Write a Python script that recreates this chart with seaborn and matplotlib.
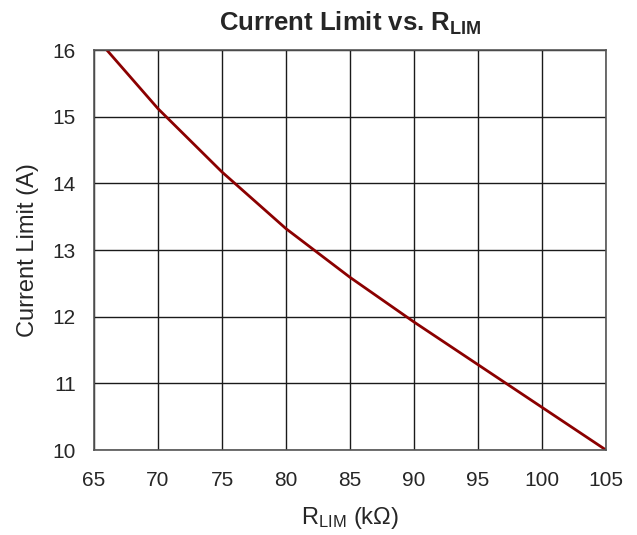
import matplotlib
matplotlib.use("Agg")
import pandas as pd
import matplotlib.pyplot as plt
import seaborn as sns

# Values
r_lim = [66, 70, 75, 80, 85, 90, 95, 100, 105]
current_limit = [16.0, 15.12, 14.17, 13.32, 12.59, 11.92, 11.28, 10.64, 10.0]
x_ticks = [65, 70, 75, 80, 85, 90, 95, 100, 105]
y_ticks = [10, 11, 12, 13, 14, 15, 16]

df = pd.DataFrame({"rlim": r_lim, "ilim": current_limit})

sns.set_style("white")
plt.rcParams["font.family"] = ["Liberation Sans", "DejaVu Sans"]
plt.rcParams["mathtext.default"] = "regular"

fig = plt.figure(figsize=(6.37, 5.35), dpi=100)
ax = fig.add_axes([94 / 637, 1 - 450 / 535, 512 / 637, 400 / 535])

sns.lineplot(data=df, x="rlim", y="ilim", color="#8b0000", linewidth=2, ax=ax)

ax.set_xlim(65, 105)
ax.set_ylim(10, 16)
ax.set_xticks(x_ticks)
ax.set_yticks(y_ticks)
ax.tick_params(axis="both", labelsize=15, length=0)
ax.tick_params(axis="y", pad=13)
ax.tick_params(axis="x", pad=15)
ax.grid(True, color="#1a1a1a", linewidth=1)
for s in ax.spines.values():
    s.set_color("#555555")
    s.set_linewidth(1.2)

ax.set_title("Current Limit vs. R$_{LIM}$", fontsize=18.5, fontweight="bold", pad=14)
ax.set_xlabel("R$_{LIM}$ (k\u03a9)", fontsize=17, labelpad=11)
ax.set_ylabel("Current Limit (A)", fontsize=17, labelpad=10)

fig.savefig("out.png", dpi=100)
